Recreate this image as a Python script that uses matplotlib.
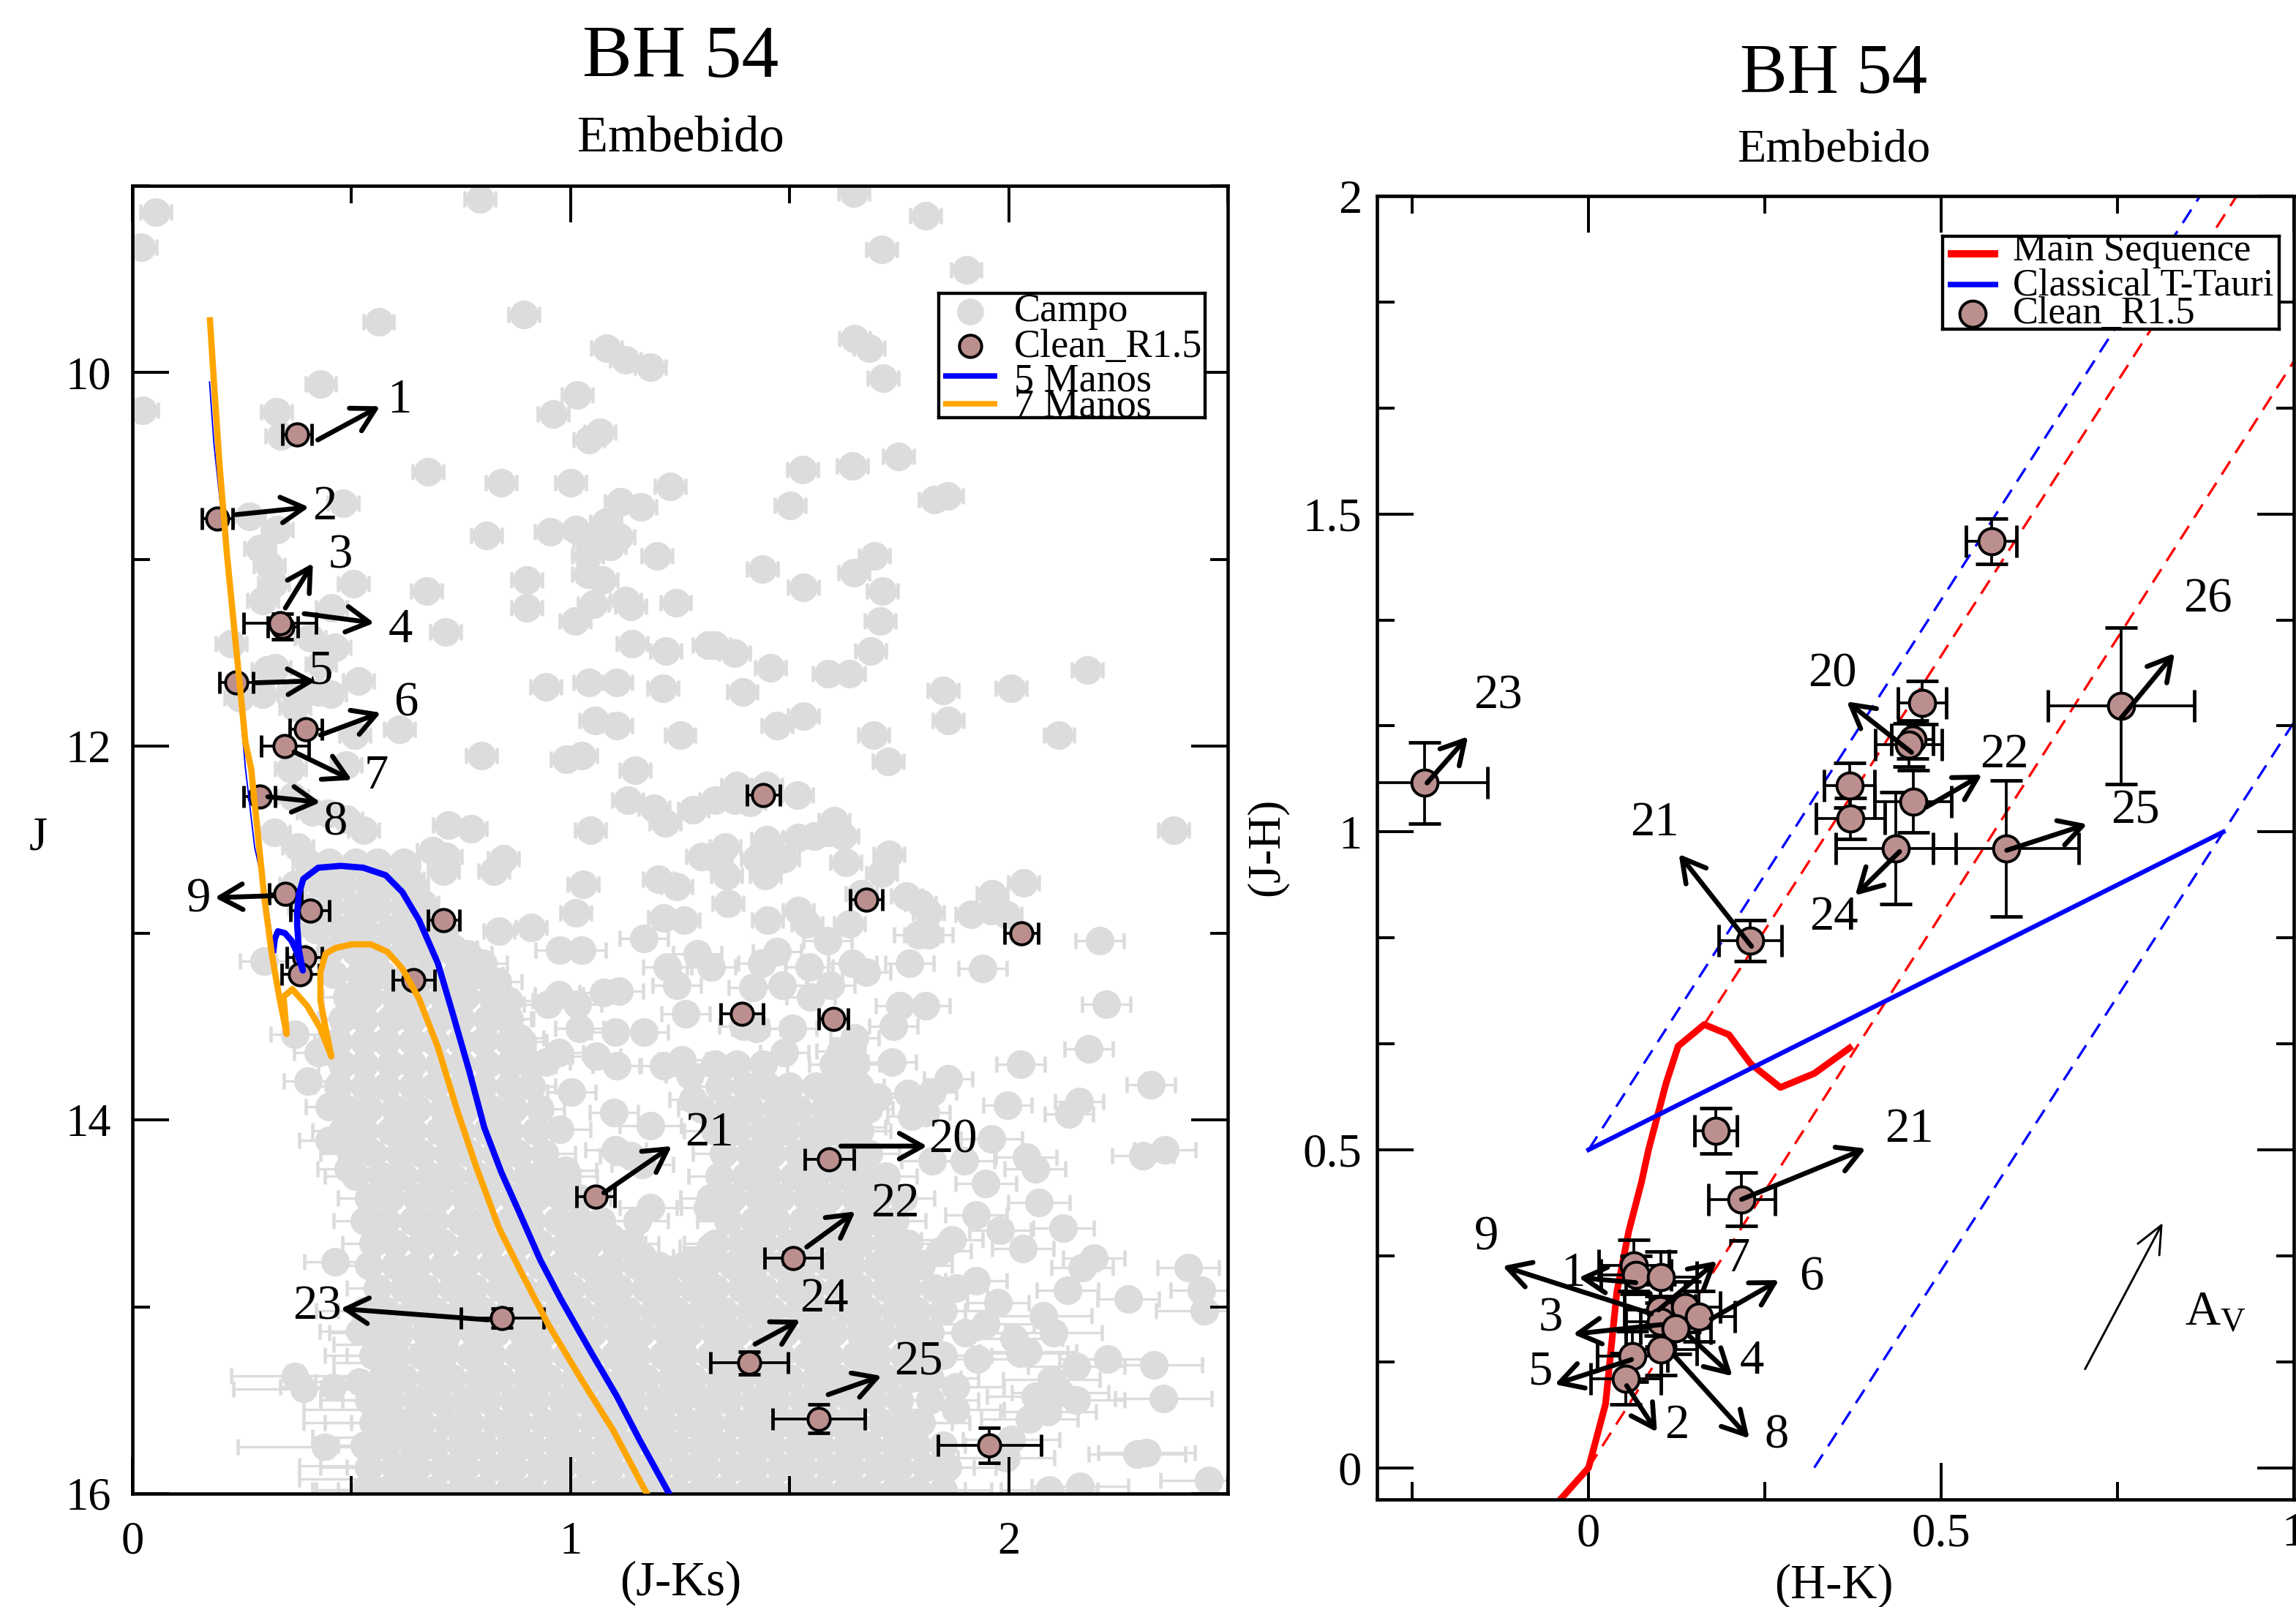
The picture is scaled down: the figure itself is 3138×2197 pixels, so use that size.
import numpy as np
import matplotlib
matplotlib.use('Agg')
import matplotlib.pyplot as plt
from matplotlib.ticker import MultipleLocator, FixedLocator

plt.rcParams['font.family'] = ['Liberation Serif', 'DejaVu Serif']
plt.rcParams['mathtext.default'] = 'regular'
plt.rcParams['mathtext.fontset'] = 'custom'
plt.rcParams['mathtext.rm'] = 'Liberation Serif'

W, H = 3138, 2197

# --- Campo: isolated stars (J-Ks, J) ---
campo_sparse = [
    (.054, 9.14), (.02, 9.33), (.793, 9.07), (.562, 9.73), (.893, 9.69), (1.082, 9.87), (1.126, 9.93), (1.183, 9.97),
    (.43, 10.06), (.024, 10.2), (1.016, 10.12), (.961, 10.22), (.329, 10.21), (.339, 10.34), (1.067, 10.32),
    (1.042, 10.36), (.674, 10.53), (.842, 10.59), (1.0, 10.59), (1.227, 10.61), (1.114, 10.69), (1.16, 10.72),
    (.481, 10.7), (.267, 10.77), (.33, 10.84), (.809, 10.87), (.954, 10.85), (1.012, 10.84), (1.08, 10.8),
    (1.11, 10.88), (1.09, 10.93), (1.042, 10.9), (1.038, 10.98), (1.198, 10.98), (.29, 10.94), (.312, 11.03),
    (.322, 11.13), (.505, 11.13), (.9, 11.11), (1.038, 11.08), (1.072, 11.11), (.671, 11.17), (.9, 11.26),
    (1.052, 11.24), (1.125, 11.22), (1.137, 11.25), (1.24, 11.23), (.298, 11.22), (.454, 11.26), (1.01, 11.33),
    (.714, 11.39), (.406, 11.42), (.463, 11.47), (.226, 11.45), (1.14, 11.45), (1.217, 11.49), (1.315, 11.46),
    (.307, 11.59), (.326, 11.58), (.43, 11.56), (.516, 11.65), (.944, 11.68), (1.042, 11.66), (1.106, 11.66),
    (1.21, 11.69), (.245, 11.74), (.298, 11.72), (.369, 11.71), (.452, 11.72), (.424, 11.71), (.371, 11.79),
    (1.055, 11.86), (1.106, 11.89), (1.25, 11.94), (.61, 11.91), (.508, 11.94), (.797, 12.05), (1.025, 12.05),
    (.99, 12.07), (.488, 12.1), (1.148, 12.13), (.36, 12.12),
    (1.646, 9.04), (1.81, 9.16), (1.71, 9.34), (1.903, 9.45), (1.648, 9.82), (1.681, 9.87), (1.714, 10.03),
    (1.53, 10.52), (1.644, 10.5), (1.748, 10.45), (1.502, 10.71), (1.831, 10.68), (1.861, 10.66), (1.694, 10.98),
    (1.438, 11.05), (1.646, 11.07), (1.531, 11.15), (1.711, 11.17), (1.706, 11.33), (1.685, 11.49), (1.329, 11.46),
    (1.374, 11.5), (1.456, 11.58), (1.588, 11.61), (1.637, 11.61), (1.392, 11.71), (1.85, 11.7), (2.006, 11.69),
    (2.18, 11.59), (1.862, 11.86), (1.471, 11.89), (1.531, 11.84), (1.691, 11.94), (2.115, 11.94), (1.725, 12.08),
    (1.379, 12.21), (1.375, 12.29), (1.41, 12.3), (1.448, 12.21), (1.518, 12.26), (1.329, 12.29), (1.352, 12.54),
    (1.448, 12.5), (1.519, 12.49), (1.556, 12.48), (1.602, 12.4), (1.621, 12.48), (1.59, 12.46), (2.377, 12.45),
    (1.333, 12.6), (1.425, 12.6), (1.456, 12.59), (1.487, 12.6), (1.629, 12.62), (1.727, 12.58), (1.71, 12.68),
    (1.356, 12.69), (1.444, 12.69), (2.034, 12.73), (1.962, 12.79), (1.767, 12.8), (1.798, 12.84), (1.817, 12.89),
    (1.664, 12.79), (1.36, 12.84), (1.519, 12.88), (1.54, 12.95), (1.45, 12.93), (1.637, 12.95), (1.913, 12.9),
    (1.96, 12.88), (1.994, 12.9), (1.794, 13.01), (1.817, 13.01), (1.587, 13.04), (2.208, 13.04), (1.471, 13.1),
    (1.437, 13.16), (1.544, 13.18), (1.644, 13.16), (1.675, 13.21), (1.773, 13.16), (1.94, 13.19), (1.321, 13.18),
    (1.416, 13.29), (1.483, 13.28), (1.548, 13.34), (1.594, 13.28), (2.223, 13.38), (1.752, 13.39), (1.81, 13.39),
    (1.737, 13.5), (1.648, 13.56), (2.183, 13.62), (2.027, 13.7), (1.733, 13.69), (1.617, 13.63), (1.488, 13.64),
    (2.325, 13.81), (1.862, 13.78), (1.771, 13.86), (1.825, 13.85), (1.702, 13.88), (1.997, 13.92), (2.161, 13.9),
    (2.137, 13.97), (1.779, 13.98), (1.81, 13.96), (1.395, 13.5), (1.425, 13.51), (1.506, 13.51),
    (1.648, 14.04), (1.96, 14.1), (2.04, 14.2), (2.06, 14.26), (1.825, 14.22), (1.898, 14.22), (1.948, 14.34),
    (2.306, 14.19), (2.357, 14.16), (2.069, 14.44), (1.925, 14.51), (1.98, 14.59), (2.125, 14.58), (1.871, 14.64),
    (2.033, 14.69), (1.844, 14.7), (2.194, 14.74), (2.167, 14.79), (2.41, 14.79), (2.44, 14.91), (2.134, 14.91),
    (1.925, 14.86), (1.975, 14.98), (2.273, 14.96), (2.446, 15.02), (1.948, 15.09), (2.079, 15.05), (2.102, 15.14),
    (2.013, 15.17), (2.044, 15.24), (1.929, 15.28), (2.025, 15.25), (2.154, 15.32), (2.226, 15.28), (2.331, 15.31),
    (2.098, 15.39), (1.879, 15.43), (2.06, 15.48), (2.117, 15.46), (2.154, 15.5), (2.353, 15.49), (1.879, 15.55),
    (2.09, 15.56), (2.047, 15.6), (2.293, 15.79), (2.315, 15.78), (2.006, 15.71), (1.994, 15.81), (2.456, 15.93),
    (2.093, 15.98), (2.163, 15.96),
    (.324, 12.46), (.377, 12.54), (.365, 12.27), (.41, 12.35), (.446, 12.36), (.49, 12.39), (.527, 12.45),
    (.721, 12.42), (.774, 12.44), (.684, 12.56), (.716, 12.59), (.71, 12.67), (.825, 12.67), (.846, 12.6),
    (1.046, 12.45), (1.131, 12.29), (1.191, 12.33), (1.216, 12.41), (1.28, 12.34), (1.3, 12.59), (1.2, 12.71),
    (1.242, 12.75), (1.029, 12.74), (1.012, 12.89), (1.212, 12.92), (1.259, 12.93), (.837, 12.99), (.91, 12.97),
    (1.167, 13.03), (.976, 13.09), (1.025, 13.09), (1.221, 13.18), (1.242, 13.28), (1.289, 13.11), (1.263, 13.43),
    (.948, 13.38), (.973, 13.33), (1.016, 13.38), (1.076, 13.32), (1.11, 13.31), (1.021, 13.51), (1.102, 13.53),
    (1.167, 13.53), (1.059, 13.66), (1.106, 13.71), (1.212, 13.71), (.944, 13.69), (.974, 13.64), (1.255, 13.68),
    (1.272, 13.76), (1.28, 13.89), (1.002, 13.85), (1.099, 13.96), (1.183, 14.03), (.976, 14.05), (1.103, 14.16),
    (1.137, 14.19), (1.164, 14.24), (.988, 14.27), (1.183, 14.47), (1.153, 14.54), (1.092, 14.63), (1.164, 14.73),
    (1.062, 14.61), (1.027, 14.56), (1.015, 14.68), (1.217, 14.8), (1.277, 14.76), (1.319, 14.68), (1.313, 14.47),
    (.3, 13.15), (.371, 13.54), (.424, 13.64), (.4, 13.79), (.45, 13.93), (.45, 14.11), (.492, 14.26), (.462, 14.76),
    (.629, 12.71), (.663, 12.84), (.705, 12.99), (.731, 13.08), (.765, 13.11), (.8, 13.16), (.833, 13.26),
    (.859, 13.36), (.855, 13.46), (.884, 13.56), (.91, 13.71),
]

# --- Campo: crowded part of the sequence, read row by row (J, J-Ks values) ---
campo_rows = [
    (12.62, [.40, .45, .51, .56, .62]),
    (12.74, [.37, .43, .48, .54, .59, .64]),
    (12.86, [.39, .45, .51, .56, .62, .66]),
    (12.98, [.42, .48, .53, .59, .64, .69]),
    (13.10, [.45, .51, .56, .62, .67, .73]),
    (13.22, [.46, .52, .57, .63, .68, .74, .79]),
    (13.34, [.49, .54, .60, .65, .71, .76, .82]),
    (13.46, [.48, .53, .59, .64, .70, .75, .81, .86]),
    (13.58, [.47, .53, .58, .64, .69, .75, .80, .86, .89]),
    (13.70, [.48, .53, .59, .64, .70, .75, .81, .86, .91, 1.33, 1.38, 1.44, 1.60, 1.65]),
    (13.82, [.47, .53, .58, .64, .69, .75, .80, .86, .91, 1.34, 1.40, 1.45, 1.50, 1.56, 1.61, 1.66]),
    (13.94, [.49, .54, .60, .65, .71, .76, .82, .87, .93, 1.30, 1.36, 1.41, 1.47, 1.52, 1.58, 1.63, 1.68]),
    (14.06, [.48, .53, .59, .64, .70, .75, .81, .86, .92, 1.33, 1.38, 1.44, 1.49, 1.55, 1.60, 1.66]),
    (14.18, [.50, .55, .61, .66, .72, .77, .83, .88, .94, 1.35, 1.41, 1.46, 1.52, 1.57, 1.63, 1.68]),
    (14.30, [.51, .57, .62, .68, .73, .79, .84, .90, .95, .99, 1.34, 1.40, 1.45, 1.51, 1.56, 1.62, 1.67, 1.72]),
    (14.42, [.54, .59, .65, .70, .76, .81, .87, .92, .98, 1.02, 1.32, 1.37, 1.43, 1.48, 1.54, 1.59, 1.65, 1.70, 1.76]),
    (14.54, [.53, .58, .64, .69, .75, .80, .86, .91, .97, 1.02, 1.07, 1.36, 1.42, 1.47, 1.53, 1.58, 1.64, 1.69, 1.74]),
    (14.66, [.55, .60, .66, .71, .77, .82, .88, .93, .99, 1.04, 1.10, 1.13, 1.33, 1.39, 1.44, 1.50, 1.55, 1.61, 1.66, 1.72, 1.77]),
    (14.78, [.54, .60, .65, .71, .76, .82, .87, .93, .98, 1.04, 1.09, 1.15, 1.20, 1.26, 1.31, 1.37, 1.42, 1.48, 1.53, 1.59, 1.64, 1.70, 1.75, 1.80]),
    (14.90, [.56, .62, .67, .73, .78, .84, .89, .95, 1.00, 1.06, 1.11, 1.17, 1.22, 1.28, 1.33, 1.39, 1.44, 1.50, 1.55, 1.61, 1.66, 1.72, 1.77, 1.83, 1.88]),
    (15.02, [.53, .58, .64, .69, .75, .80, .86, .91, .97, 1.02, 1.08, 1.13, 1.19, 1.24, 1.30, 1.35, 1.41, 1.46, 1.52, 1.57, 1.63, 1.68, 1.74, 1.79, 1.85]),
    (15.14, [.56, .61, .67, .72, .78, .83, .89, .94, 1.00, 1.05, 1.11, 1.16, 1.22, 1.27, 1.33, 1.38, 1.44, 1.49, 1.55, 1.60, 1.66, 1.71, 1.77, 1.82, 1.90]),
    (15.26, [.55, .60, .66, .71, .77, .82, .88, .93, .99, 1.04, 1.10, 1.15, 1.21, 1.26, 1.32, 1.37, 1.43, 1.48, 1.54, 1.59, 1.65, 1.70, 1.76, 1.81, 1.85]),
    (15.38, [.57, .62, .68, .73, .79, .84, .90, .95, 1.01, 1.06, 1.12, 1.17, 1.23, 1.28, 1.34, 1.39, 1.45, 1.50, 1.56, 1.61, 1.67, 1.72, 1.78, 1.82]),
    (15.50, [.54, .59, .65, .70, .76, .81, .87, .92, .98, 1.03, 1.09, 1.14, 1.20, 1.25, 1.31, 1.36, 1.42, 1.47, 1.53, 1.58, 1.64, 1.69, 1.75, 1.82]),
    (15.62, [.55, .61, .66, .72, .77, .83, .88, .94, .99, 1.05, 1.10, 1.16, 1.21, 1.27, 1.32, 1.38, 1.43, 1.49, 1.54, 1.60, 1.65, 1.71, 1.76, 1.80]),
    (15.74, [.53, .58, .64, .69, .75, .80, .86, .91, .97, 1.02, 1.08, 1.13, 1.19, 1.24, 1.30, 1.35, 1.41, 1.46, 1.52, 1.57, 1.63, 1.68, 1.74, 1.79, 1.85]),
    (15.86, [.54, .60, .65, .71, .76, .82, .87, .93, .98, 1.04, 1.09, 1.15, 1.20, 1.26, 1.31, 1.37, 1.42, 1.48, 1.53, 1.59, 1.64, 1.70, 1.75, 1.81, 1.86]),
    (15.98, [.53, .58, .64, .69, .75, .80, .86, .91, .97, 1.02, 1.08, 1.13, 1.19, 1.24, 1.30, 1.35, 1.41, 1.46, 1.52, 1.57, 1.63, 1.68, 1.74, 1.79, 1.85]),
]

# faint stars on the blue edge, with their own long bars: J-Ks, J, ex
campo_faint = [
    (.37, 15.37, .145), (.39, 15.44, .16), (.44, 15.75, .2), (.457, 15.43, .12), (.518, 15.4, .1), (.518, 15.13, .09),
    (.56, 15.55, .17), (.58, 15.62, .19), (.56, 15.7, .15), (.6, 15.85, .22), (.62, 15.92, .24), (.55, 15.98, .14),
    (.56, 15.5, .13), (.58, 15.3, .12), (.6, 15.2, .14),
]

# errors of the field stars, per J band
campo_band_edges = [13.0, 14.0, 15.0]
campo_band_ex = [.035, .055, .07, .11]
campo_band_ey = [.012, .02, .03, .055]

# --- Clean_R1.5 in the CMD: J-Ks, J, ex, ey ---
cmd_clean = [
    (.376, 10.33, .033, .02), (.194, 10.78, .035, .02), (.343, 11.36, .034, .068), (.337, 11.34, .083, .015),
    (.237, 11.66, .038, .02), (.396, 11.91, .037, .02), (.348, 12.0, .054, .02), (.29, 12.27, .036, .02),
    (.349, 12.79, .036, .02), (.405, 12.88, .045, .02), (.393, 13.13, .04, .02), (.383, 13.22, .043, .02),
    (.71, 12.93, .036, .02), (.642, 13.25, .048, .02), (.844, 15.06, .095, .05), (1.057, 14.41, .044, .02),
    (1.44, 12.26, .038, .02), (1.675, 12.82, .037, .02), (2.029, 13.0, .038, .02), (1.391, 13.43, .048, .02),
    (1.6, 13.46, .033, .02), (1.59, 14.21, .056, .02), (1.508, 14.74, .065, .03), (1.408, 15.3, .088, .06),
    (1.566, 15.6, .105, .076), (1.956, 15.74, .118, .094),
]

# --- Isochrones ---
manos5_thin_jk = [.176, .186, .207, .228, .258, .279, .309, .322]
manos5_thin_j = [10.05, 10.38, 10.84, 11.32, 12.12, 12.54, 12.86, 13.09]
manos5_jk = [.322, .325, .332, .348, .363, .373, .389, .38, .376, .376, .38, .39, .407, .424, .475, .527, .578, .616,
             .654, .697, .731, .769, .803, .842, .884, .931, .978, 1.046, 1.106, 1.157, 1.225]
manos5_j = [13.09, 13.03, 12.99, 13.0, 13.04, 13.09, 13.2, 13.09, 12.96, 12.89, 12.79, 12.71, 12.68, 12.65, 12.64,
            12.65, 12.69, 12.78, 12.93, 13.16, 13.43, 13.74, 14.04, 14.28, 14.5, 14.75, 14.96, 15.24, 15.48, 15.71, 16.0]
manos7_jk = [.177, .186, .199, .216, .237, .258, .271, .288, .301, .318, .335, .352, .345, .365, .399, .429, .454, .441,
             .429, .429, .441, .463, .501, .544, .582, .616, .654, .697, .74, .786, .837, .884, .948, 1.025, 1.097, 1.174]
manos7_j = [9.72, 10.05, 10.5, 10.98, 11.48, 11.98, 12.12, 12.51, 12.81, 13.11, 13.34, 13.54, 13.34, 13.3, 13.39, 13.51,
            13.66, 13.51, 13.36, 13.21, 13.11, 13.08, 13.06, 13.06, 13.1, 13.19, 13.35, 13.61, 13.94, 14.26, 14.58, 14.8,
            15.09, 15.39, 15.66, 16.0]

# --- Labelled arrows in the CMD: label, from, to, label position ---
cmd_arrows = [
    ('1', .423, 10.36, .565, 10.18, .61, 10.15), ('2', .237, 10.76, .403, 10.72, .439, 10.72),
    ('3', .349, 11.26, .412, 11.02, .474, 10.98), ('4', .392, 11.29, .552, 11.34, .612, 11.38),
    ('5', .281, 11.66, .418, 11.65, .431, 11.6), ('6', .429, 11.94, .567, 11.82, .625, 11.77),
    ('7', .369, 12.03, .501, 12.18, .556, 12.16), ('8', .309, 12.27, .429, 12.3, .463, 12.41),
    ('9', .322, 12.8, .188, 12.81, .152, 12.82), ('21', 1.076, 14.39, 1.231, 14.14, 1.317, 14.07),
    ('20', 1.617, 14.14, 1.814, 14.14, 1.873, 14.11), ('22', 1.539, 14.68, 1.65, 14.49, 1.74, 14.45),
    ('23', .812, 15.07, .475, 15.01, .422, 15.0), ('24', 1.421, 15.2, 1.524, 15.07, 1.579, 14.96),
    ('25', 1.588, 15.47, 1.71, 15.37, 1.794, 15.3),
]

# --- Color-color diagram: H-K, J-H, ex, ey ---
ccd_clean = [
    (.571, 1.457, .036, .036), (.473, 1.203, .034, .034), (.459, 1.145, .03, .03), (.454, 1.137, .047, .034),
    (.37, 1.073, .036, .035), (.371, 1.021, .049, .032), (.46, 1.048, .054, .049), (.436, .974, .085, .088),
    (.592, .974, .103, .107), (.755, 1.198, .104, .123), (.229, .829, .045, .032), (.18, .53, .03, .036),
    (.217, .422, .047, .042), (-.233, 1.077, .09, .064), (.064, .318, .05, .04), (.067, .303, .05, .03),
    (.103, .3, .05, .04), (.101, .248, .05, .04), (.137, .253, .05, .04), (.157, .238, .05, .04),
    (.103, .23, .05, .04), (.123, .219, .05, .04), (.103, .186, .05, .04), (.062, .175, .05, .04),
    (.053, .14, .05, .04),
]
ccd_arrows = [
    ('1', .067, .291, -.014, .299, -.022, .305), ('2', .054, .129, .097, .056, .125, .066),
    ('3', .103, .225, -.022, .21, -.054, .234), ('4', .143, .207, .204, .144, .232, .167),
    ('5', .061, .17, -.048, .131, -.068, .15), ('6', .174, .234, .27, .295, .316, .298),
    ('7', .099, .248, .182, .325, .212, .328), ('8', .121, .177, .228, .046, .267, .05),
    ('9', .089, .242, -.122, .317, -.145, .362), ('20', .458, 1.125, .366, 1.205, .346, 1.248),
    ('21', .231, .82, .128, .965, .094, 1.014), ('22', .479, 1.039, .558, 1.09, .59, 1.12),
    ('24', .441, .969, .378, .9, .348, .865), ('25', .593, .971, .707, 1.012, .775, 1.033),
    ('26', .755, 1.179, .831, 1.281, .878, 1.365), ('21', .217, .422, .393, .502, .455, .532),
    ('23', -.229, 1.077, -.171, 1.15, -.128, 1.213),
]

# main sequence and CTT locus
ms_hk = [-.04, 0, .024, .04, .057, .075, .085, .11, .127, .164, .199, .23, .272, .32, .37]
ms_jh = [-.05, 0, .1, .276, .372, .449, .5, .605, .663, .697, .681, .635, .598, .62, .66]
ctt_hk = [0, .9]
ctt_jh = [.5, 1.0]
# reddening bands
red_a_hk, red_a_jh = [0, 1.0], [0, 1.74]
red_b_hk, red_b_jh = [.164, .919], [.697, 2.0]
blue_a_hk, blue_a_jh = [0, .867], [.5, 2.0]
blue_b_hk, blue_b_jh = [.32, 1.0], [0, 1.172]
av_vector = (.704, .155, .814, .385)

GRAY = '#DCDCDC'
BROWN = '#BC8F8F'
dash = (0, (6.5, 4))


def axes_px(x0, y0, x1, y1):
    # axes placed by its pixel box in the picture
    return fig.add_axes([x0 / W, 1 - y1 / H, (x1 - x0) / W, (y1 - y0) / H])


def style_axes(ax, fs, padx, pady):
    ax.tick_params(which='both', direction='in', top=True, right=True, width=.95, labelsize=fs)
    ax.tick_params(axis='x', pad=padx)
    ax.tick_params(axis='y', pad=pady)
    ax.tick_params(which='major', length=12)
    ax.tick_params(which='minor', length=5.8)
    for s in ax.spines.values():
        s.set_linewidth(1.1)


def draw_clean(ax, rows, ms, cap):
    x, y, ex, ey = np.array(rows).T
    ax.errorbar(x, y, xerr=ex, yerr=ey, fmt='none', ecolor='k', elinewidth=.9, capsize=cap, capthick=1.15, zorder=3)
    ax.plot(x, y, 'o', ms=ms, mfc=BROWN, mec='k', mew=.95, ls='none', zorder=3.5)


def draw_arrows(ax, rows):
    for lab, x0, y0, x1, y1, tx, ty in rows:
        ax.annotate('', xy=(x1, y1), xytext=(x0, y0), zorder=6,
                    arrowprops=dict(arrowstyle='->,head_length=.75,head_width=.42', color='k', lw=1.6,
                                    shrinkA=0, shrinkB=0, mutation_scale=10))
        ax.text(tx, ty, lab, fontsize=16, ha='center', va='center', zorder=7)


fig = plt.figure(figsize=(W / 300, H / 300), dpi=300)

# --- Left: CMD ---
ax1 = axes_px(181, 254, 1678, 2042)
jk = [p[0] for p in campo_sparse] + [v for r in campo_rows for v in r[1]]
j = [p[1] for p in campo_sparse] + [r[0] for r in campo_rows for v in r[1]]
jk, j = np.array(jk), np.array(j)
band = np.digitize(j, campo_band_edges)
ax1.errorbar(jk, j, xerr=np.array(campo_band_ex)[band], yerr=np.array(campo_band_ey)[band], fmt='none',
             ecolor=GRAY, elinewidth=.8, capsize=2.6, capthick=1.1, zorder=1)
ax1.plot(jk, j, 'o', ms=9.4, color=GRAY, mew=0, ls='none', zorder=1.5)
fx, fy, fe = np.array(campo_faint).T
ax1.errorbar(fx, fy, xerr=fe, yerr=.055, fmt='none', ecolor=GRAY, elinewidth=.8, capsize=2.6, capthick=1.1, zorder=1)
ax1.plot(fx, fy, 'o', ms=9.0, color=GRAY, mew=0, ls='none', zorder=1.5)
draw_clean(ax1, cmd_clean, 7.3, 3.5)
ax1.plot(manos5_thin_jk, manos5_thin_j, color='#0000FF', lw=.45, zorder=4)
ax1.plot(manos5_jk, manos5_j, color='#0000FF', lw=2.05, zorder=4)
ax1.plot(manos7_jk, manos7_j, color='#FFA500', lw=2.05, zorder=4.1)
draw_arrows(ax1, cmd_arrows)
ax1.set_xlim(0, 2.5)
ax1.set_ylim(16, 9)
ax1.xaxis.set_major_locator(MultipleLocator(1))
ax1.xaxis.set_minor_locator(MultipleLocator(.5))
ax1.yaxis.set_major_locator(MultipleLocator(2))
ax1.yaxis.set_minor_locator(MultipleLocator(1))
style_axes(ax1, 15, 9, 7)
fig.text(930 / W, 1 - 81 / H, 'BH 54', fontsize=24.4, ha='center', va='center')
fig.text(930 / W, 1 - 190 / H, 'Embebido', fontsize=16.5, ha='center', va='center')
fig.text(930 / W, 1 - 2164 / H, '(J-Ks)', fontsize=16, ha='center', va='center')
fig.text(52 / W, 1 - 1146 / H, 'J', fontsize=15.5, ha='center', va='center')

# legend of the left panel, in picture pixels
lg1 = axes_px(1283, 401, 1647, 571)
lg1.set_xlim(1283, 1647)
lg1.set_ylim(571, 401)
lg1.set_xticks([])
lg1.set_yticks([])
for s in lg1.spines.values():
    s.set_linewidth(1.05)
lg1.plot(1326, 426, 'o', ms=8.8, color=GRAY, mew=0)
lg1.plot(1326, 473, 'o', ms=7.3, mfc=BROWN, mec='k', mew=.95)
lg1.plot([1289, 1363], [514, 514], color='#0000FF', lw=1.8, solid_capstyle='butt')
lg1.plot([1289, 1363], [552, 552], color='#FFA500', lw=1.8, solid_capstyle='butt')
for ty, name in zip([426, 475, 521, 556], ['Campo', 'Clean_R1.5', '5 Manos', '7 Manos']):
    lg1.text(1386, ty, name, fontsize=13, va='center', clip_on=False)

# --- Right: color-color ---
ax2 = axes_px(1882, 268, 3135, 2050)
for xx, yy, cc in [(red_a_hk, red_a_jh, 'r'), (red_b_hk, red_b_jh, 'r'), (blue_a_hk, blue_a_jh, '#0000FF'),
                   (blue_b_hk, blue_b_jh, '#0000FF')]:
    ax2.plot(xx, yy, color=cc, lw=.8, ls=dash, zorder=1)
ax2.plot(ms_hk, ms_jh, color='r', lw=2.2, zorder=2)
ax2.plot(ctt_hk, ctt_jh, color='#0000FF', lw=1.5, zorder=2)
draw_clean(ax2, ccd_clean, 8.6, 5.3)
draw_arrows(ax2, ccd_arrows)
ax2.annotate('', xy=av_vector[2:], xytext=av_vector[:2], zorder=6,
             arrowprops=dict(arrowstyle='->,head_length=.9,head_width=.4', color='k', lw=.7, shrinkA=0, shrinkB=0,
                             mutation_scale=10))
ax2.text(.845, .245, r'$A_V$', fontsize=16, ha='left', va='center')
ax2.set_xlim(-.3, 1)
ax2.set_ylim(-.05, 2)
ax2.xaxis.set_minor_locator(MultipleLocator(.25))
ax2.yaxis.set_minor_locator(FixedLocator([1 / 6, 2 / 6, 4 / 6, 5 / 6, 7 / 6, 8 / 6, 10 / 6, 11 / 6]))
ax2.set_xticks([0, .5, 1])
ax2.set_xticklabels(['0', '0.5', '1'])
ax2.set_yticks([0, .5, 1, 1.5, 2])
ax2.set_yticklabels(['0', '0.5', '1', '1.5', '2'])
style_axes(ax2, 15.5, 4.2, 5)
fig.text(2506 / W, 1 - 103 / H, 'BH 54', fontsize=23.3, ha='center', va='center')
fig.text(2506 / W, 1 - 206 / H, 'Embebido', fontsize=15.4, ha='center', va='center')
fig.text(2506 / W, 1 - 2168 / H, '(H-K)', fontsize=16, ha='center', va='center')
fig.text(1732 / W, 1 - 1158 / H, '(J-H)', fontsize=15.3, ha='center', va='center', rotation=90)

# legend of the right panel, in picture pixels
lg2 = axes_px(2655, 323, 3115, 450)
lg2.set_xlim(2655, 3115)
lg2.set_ylim(450, 323)
lg2.set_xticks([])
lg2.set_yticks([])
for s in lg2.spines.values():
    s.set_linewidth(1.05)
lg2.plot([2662, 2731], [347, 347], color='r', lw=2.4, solid_capstyle='butt')
lg2.plot([2662, 2731], [389, 389], color='#0000FF', lw=1.8, solid_capstyle='butt')
lg2.plot(2696, 429, 'o', ms=8.6, mfc=BROWN, mec='k', mew=.95)
for ty, name in zip([343, 390, 429], ['Main Sequence', 'Classical T-Tauri', 'Clean_R1.5']):
    lg2.text(2751, ty, name, fontsize=12.6, va='center', clip_on=False)

plt.savefig('out.png', dpi=300)
